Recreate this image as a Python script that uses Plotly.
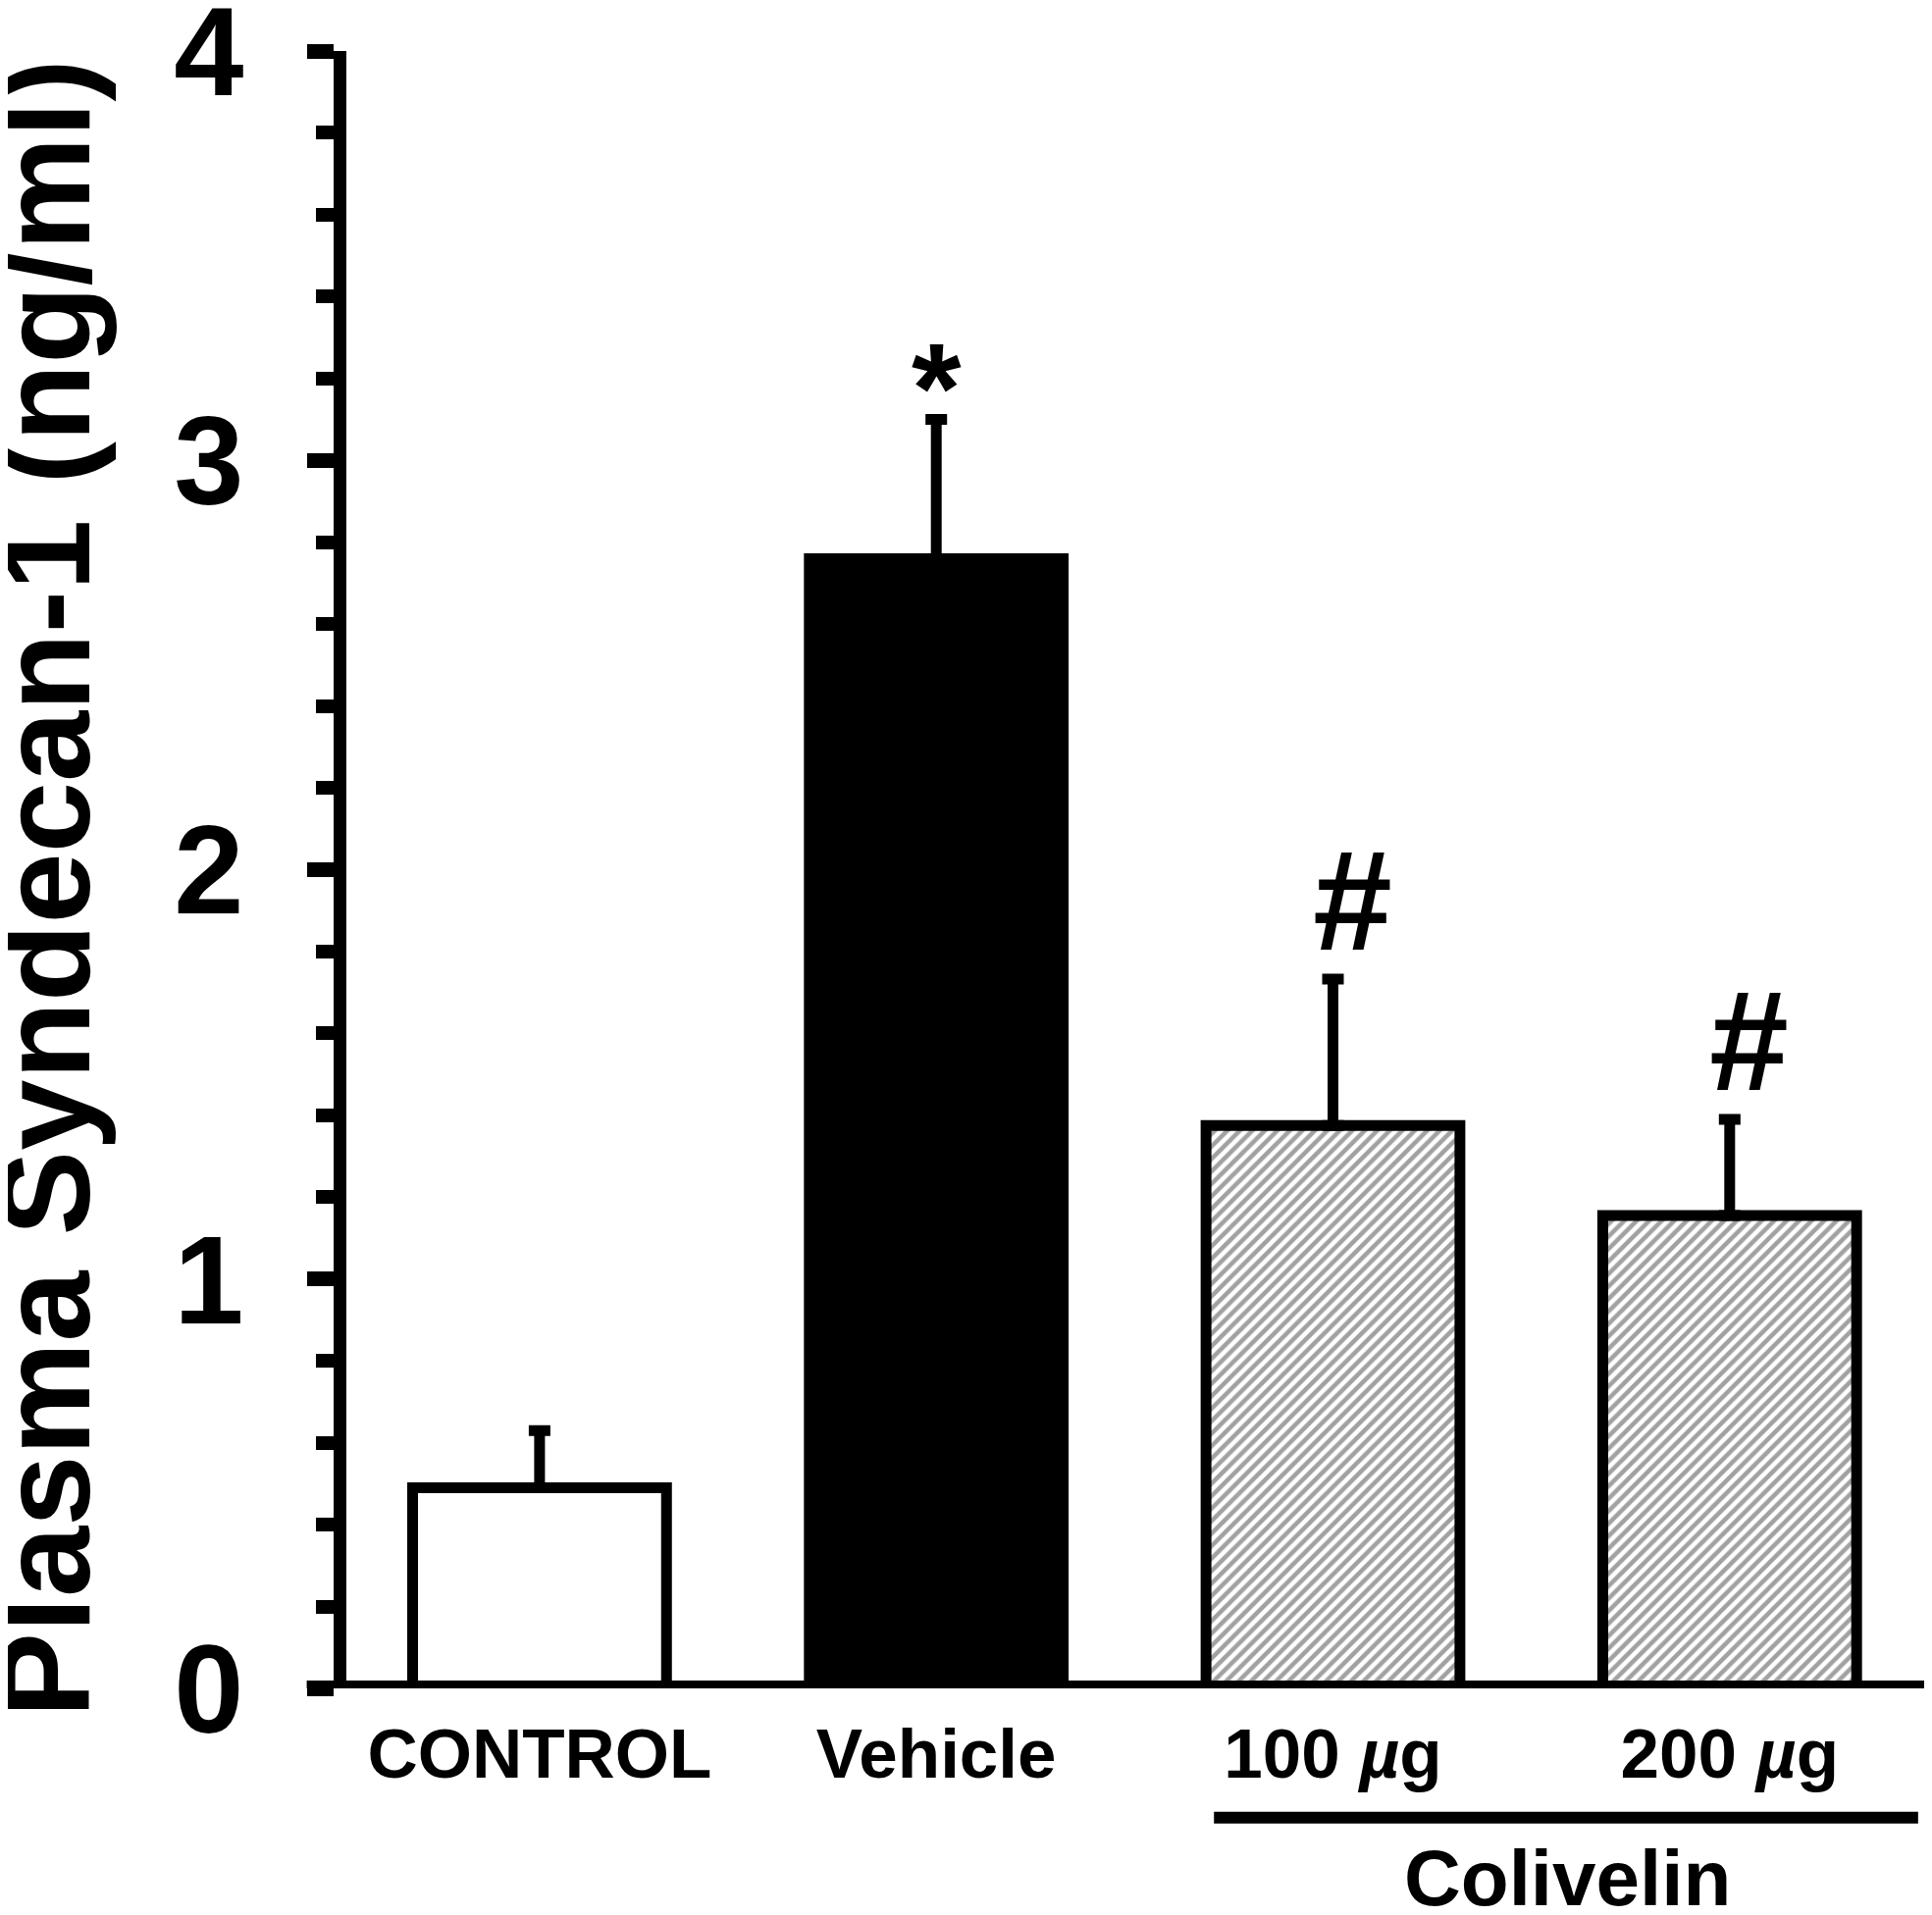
import plotly.graph_objects as go

# values (ng/ml, mean and SEM)
groups = ["CONTROL", "Vehicle", "100 µg", "200 µg"]
group_labels = ["CONTROL", "Vehicle", "100 <i>µ</i>g", "200 <i>µ</i>g"]
syndecan_mean = [0.49, 2.76, 1.375, 1.155]
syndecan_sem = [0.14, 0.34, 0.358, 0.235]
signif_marks = ["", "*", "#", "#"]
y_ticks = [0, 1, 2, 3, 4]

bar_colors = ["white", "black", "white", "white"]
bar_patterns = ["", "", "/", "/"]

FONT = "Arial, Liberation Sans, sans-serif"
xpos = list(range(len(groups)))

fig = go.Figure()

fig.add_trace(go.Bar(
    x=xpos,
    y=syndecan_mean,
    width=0.64,
    marker=dict(
        color=bar_colors,
        line=dict(color="black", width=11),
        pattern=dict(shape=bar_patterns, fgcolor="black", bgcolor="white",
                     size=9, solidity=0.5, fillmode="overlay"),
    ),
    error_y=dict(type="data", symmetric=False, array=syndecan_sem,
                 arrayminus=[0] * len(groups), color="black",
                 thickness=11, width=11),
    showlegend=False,
))

# asterisk / hash over the error bars
for i, mark in enumerate(signif_marks):
    if not mark:
        continue
    if mark == "*":
        txt, size, shift, xs = "<b>*</b>", 130, -43, 0
    else:
        txt, size, shift, xs = "<b><i>#</i></b>", 145, -3, 18
    fig.add_annotation(x=xpos[i], y=syndecan_mean[i] + syndecan_sem[i],
                       xref="x", yref="y", text=txt, showarrow=False,
                       yanchor="bottom", xanchor="center", yshift=shift, xshift=xs,
                       font=dict(family=FONT, size=size, color="black"))

# baseline running a bit past the y axis
fig.add_shape(type="line", xref="paper", yref="y", x0=-0.025, x1=1.01, y0=0, y1=0,
              line=dict(color="black", width=16))

# Colivelin bracket
fig.add_shape(type="line", xref="x", yref="paper", x0=1.70, x1=3.475, y0=-0.079, y1=-0.079,
              line=dict(color="black", width=12))
fig.add_annotation(x=2.59, y=-0.116, xref="x", yref="paper", text="<b>Colivelin</b>",
                   showarrow=False, xanchor="center", yanchor="middle",
                   font=dict(family=FONT, size=80, color="black"))

# y axis title
fig.add_annotation(x=-0.19, y=0.489, xref="paper", yref="paper",
                   text="<b>Plasma Syndecan-1 (ng/ml)</b>", textangle=-90,
                   showarrow=False, xanchor="center", yanchor="middle",
                   font=dict(family=FONT, size=130, color="black"))

# page body has an 8px margin, so margins are shifted by that much
fig.update_layout(
    width=1969, height=1952,
    margin=dict(l=345, r=8, t=44, b=239),
    plot_bgcolor="white", paper_bgcolor="white",
)

fig.update_xaxes(range=[-0.487, 3.51], tickvals=xpos, ticktext=group_labels,
                 showline=False, showgrid=False, zeroline=False, ticks="",
                 ticklabelstandoff=19, automargin=False,
                 tickfont=dict(family=FONT, size=71, color="black", weight="bold"))

fig.update_yaxes(range=[0, 4], tickvals=y_ticks, showline=True, linewidth=13,
                 linecolor="black", showgrid=False, zeroline=False,
                 ticks="outside", ticklen=27, tickwidth=15, tickcolor="black",
                 minor=dict(dtick=0.2, ticks="outside", ticklen=18, tickwidth=14,
                            tickcolor="black", showgrid=False),
                 ticklabelstandoff=39, ticklabeloverflow="allow", automargin=False,
                 tickfont=dict(family=FONT, size=128, color="black", weight="bold"))

fig.write_html("out.html")
